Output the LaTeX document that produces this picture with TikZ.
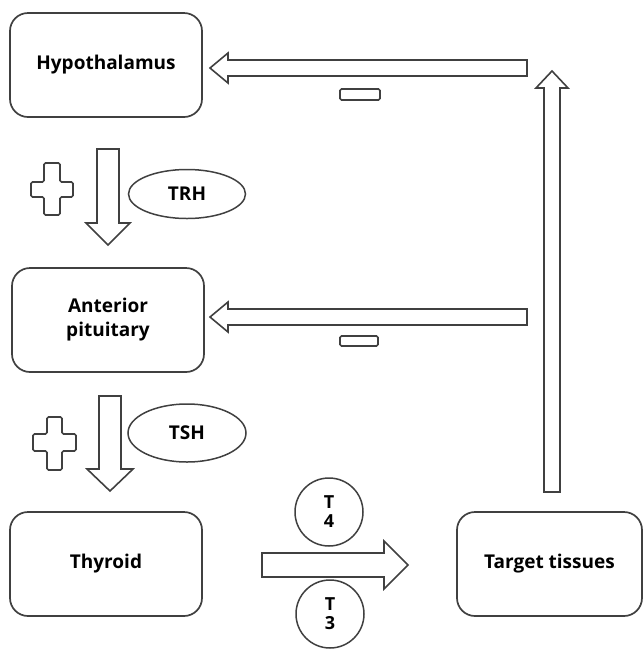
\documentclass[tikz,border=0pt]{standalone}
\usepackage{fontspec}
\setmainfont{Open Sans}
\usetikzlibrary{positioning,shapes.geometric}

\definecolor{linegray}{gray}{0.25}

\begin{document}
\begin{tikzpicture}[x=1pt,y=-1pt]
  \tikzset{organ/.style={draw=linegray,line width=1.7pt,rounded corners=18pt,
      minimum width=192pt,minimum height=104pt,align=center,
      font=\bfseries\fontsize{19}{24}\selectfont},
    hormone/.style={draw=linegray,line width=1.5pt,ellipse,inner sep=0pt,
      font=\bfseries\fontsize{19}{24}\selectfont},
    iodine/.style={draw=linegray,line width=1.5pt,circle,inner sep=0pt,
      minimum size=68pt,align=center,font=\bfseries\fontsize{18}{22}\selectfont},
    blockarrow/.style={draw=linegray,line width=1.6pt,line join=miter},
    signbox/.style={draw=linegray,line width=1.6pt,rounded corners=1.5pt}}
  \useasboundingbox (0,0) rectangle (643,649);

  % organs
  \node[organ] (hyp) at (106,65) {Hypothalamus};
  \node[organ] (ant) at (108,320) {Anterior\\pituitary};
  \node[organ] (thy) at (106,564) {Thyroid};
  \node[organ,minimum width=185pt] (target) at (549.5,564) {Target tissues};

  % hormones
  \node[hormone,minimum width=117pt,minimum height=49pt] (trh) at (187,194) {TRH};
  \node[hormone,minimum width=118pt,minimum height=58pt] (tsh) at (187,433) {TSH};
  \node[iodine] (t4) at (329,512) {T\\[-3pt]4};
  \node[iodine] (t3) at (330,614) {T\\[-3pt]3};

  % stimulation
  \draw[blockarrow] (97,149) -- (119,149) -- (119,223) -- (130,223) -- (108,245)
    -- (86,223) -- (97,223) -- cycle;
  \draw[blockarrow] (99,396) -- (121,396) -- (121,469) -- (133,469) -- (110,491)
    -- (87,469) -- (99,469) -- cycle;
  \draw[blockarrow] (262,553) -- (384,553) -- (384,541) -- (408,565) -- (384,589)
    -- (384,577) -- (262,577) -- cycle;
  \draw[signbox] (44,163) -- (60,163) -- (60,182) -- (73,182) -- (73,197) -- (60,197)
    -- (60,215) -- (44,215) -- (44,197) -- (31,197) -- (31,182) -- (44,182) -- cycle;
  \draw[signbox] (47,417) -- (62,417) -- (62,434) -- (76,434) -- (76,451) -- (62,451)
    -- (62,470) -- (47,470) -- (47,451) -- (33,451) -- (33,434) -- (47,434) -- cycle;

  % feedback
  \draw[blockarrow] (544,492) -- (544,88) -- (536,88) -- (552,71) -- (568,88)
    -- (560,88) -- (560,492) -- cycle;
  \draw[blockarrow] (527,60) -- (228,60) -- (228,53) -- (210,68) -- (228,83)
    -- (228,76) -- (527,76) -- cycle;
  \draw[blockarrow] (527,309) -- (228,309) -- (228,302) -- (210,317) -- (228,332)
    -- (228,325) -- (527,325) -- cycle;
  \draw[signbox] (340,89) rectangle (380,100);
  \draw[signbox] (340,336) rectangle (378,346);
\end{tikzpicture}
\end{document}
